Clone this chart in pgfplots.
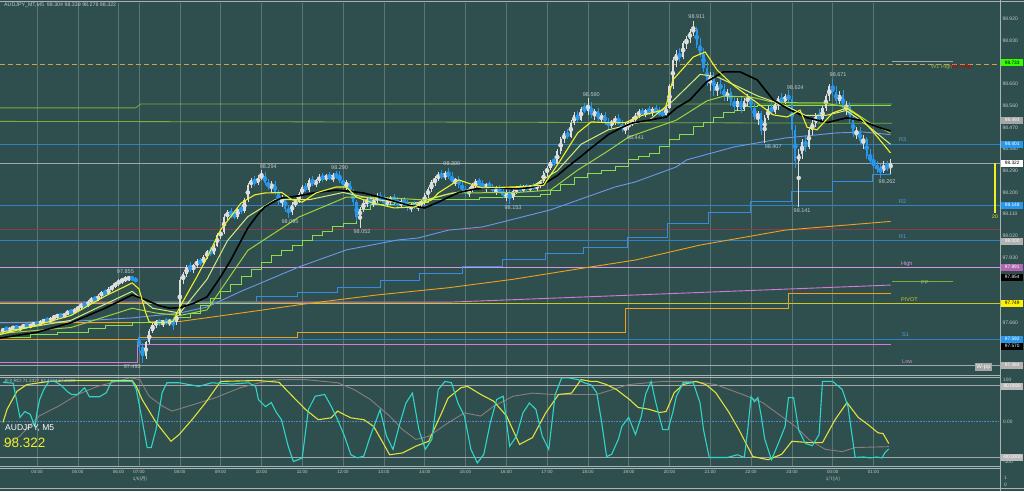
\documentclass[border=0pt]{standalone}
\usepackage{pgfplots}
\pgfplotsset{compat=1.18}
\usepackage{pgfplotstable}
\usepackage{fontspec}
\setmainfont{Liberation Sans}
\newfontfamily\cjk{Noto Sans CJK JP}
\definecolor{bg}{RGB}{47,79,79}
\definecolor{upc}{RGB}{222,222,222}
\definecolor{dnc}{RGB}{40,150,235}
\definecolor{lvblue}{RGB}{45,130,200}
\definecolor{lvgreen}{RGB}{120,175,60}
\definecolor{lvyellow}{RGB}{200,200,40}
\definecolor{lvpink}{RGB}{215,150,215}
\definecolor{lvmaroon}{RGB}{140,60,70}
\definecolor{lvgrey}{RGB}{165,165,175}
\definecolor{wtan}{RGB}{205,160,80}
\definecolor{myyellow}{RGB}{240,240,40}
\definecolor{paleyellow}{RGB}{215,235,120}
\definecolor{ygreen}{RGB}{160,210,60}
\definecolor{stair}{RGB}{140,220,80}
\definecolor{cblue}{RGB}{110,150,235}
\definecolor{morange}{RGB}{240,160,30}
\definecolor{mpink}{RGB}{215,120,215}
\definecolor{stepblue}{RGB}{55,140,225}
\definecolor{oscyan}{RGB}{48,213,200}
\definecolor{osyellow}{RGB}{225,225,60}
\definecolor{osgrey}{RGB}{140,125,125}
\definecolor{txtgrey}{RGB}{195,200,200}
\definecolor{border}{RGB}{170,180,180}

\pgfplotstableread{
o h l c
97.625 97.640 97.615 97.632
97.632 97.645 97.625 97.628
97.628 97.640 97.620 97.636
97.636 97.648 97.630 97.640
97.640 97.652 97.632 97.634
97.634 97.646 97.626 97.642
97.642 97.655 97.636 97.648
97.648 97.660 97.640 97.644
97.644 97.656 97.636 97.650
97.650 97.664 97.644 97.658
97.658 97.668 97.648 97.654
97.654 97.670 97.648 97.664
97.664 97.676 97.656 97.670
97.670 97.682 97.662 97.666
97.666 97.684 97.660 97.678
97.678 97.692 97.670 97.686
97.686 97.698 97.676 97.690
97.690 97.702 97.680 97.684
97.684 97.700 97.678 97.696
97.696 97.712 97.690 97.706
97.706 97.718 97.696 97.700
97.700 97.720 97.694 97.714
97.714 97.730 97.706 97.724
97.724 97.742 97.716 97.736
97.736 97.748 97.722 97.730
97.730 97.752 97.726 97.746
97.746 97.766 97.738 97.760
97.760 97.772 97.748 97.754
97.754 97.778 97.748 97.772
97.772 97.792 97.764 97.786
97.786 97.800 97.772 97.780
97.780 97.806 97.774 97.798
97.798 97.818 97.790 97.812
97.812 97.830 97.804 97.822
97.822 97.840 97.814 97.832
97.832 97.846 97.822 97.838
97.838 97.852 97.830 97.842
97.842 97.855 97.834 97.846
97.846 97.852 97.836 97.840
97.840 97.848 97.828 97.832
97.600 97.612 97.540 97.560
97.560 97.575 97.493 97.520
97.520 97.585 97.510 97.578
97.578 97.632 97.570 97.625
97.625 97.660 97.618 97.652
97.652 97.672 97.640 97.664
97.664 97.676 97.648 97.656
97.656 97.672 97.644 97.668
97.668 97.680 97.652 97.660
97.660 97.676 97.646 97.670
97.670 97.684 97.630 97.664
97.664 97.700 97.650 97.692
97.692 97.850 97.686 97.838
97.838 97.872 97.820 97.860
97.860 97.900 97.850 97.892
97.892 97.912 97.870 97.882
97.882 97.905 97.868 97.898
97.898 97.925 97.888 97.914
97.914 97.930 97.896 97.906
97.906 97.940 97.900 97.932
97.932 97.962 97.924 97.956
97.956 97.972 97.938 97.946
97.946 97.988 97.940 97.980
97.980 98.030 97.972 98.022
98.022 98.045 98.008 98.036
98.036 98.110 98.028 98.100
98.100 98.128 98.085 98.118
98.118 98.136 98.096 98.108
98.108 98.126 98.090 98.100
98.100 98.140 98.092 98.132
98.132 98.150 98.112 98.122
98.122 98.176 98.116 98.168
98.168 98.240 98.160 98.232
98.232 98.262 98.220 98.250
98.250 98.268 98.228 98.238
98.238 98.272 98.230 98.262
98.262 98.294 98.250 98.270
98.270 98.286 98.232 98.240
98.240 98.258 98.210 98.222
98.222 98.246 98.200 98.236
98.236 98.248 98.190 98.198
98.198 98.212 98.150 98.160
98.160 98.188 98.140 98.176
98.176 98.190 98.120 98.132
98.132 98.150 98.095 98.120
98.120 98.160 98.108 98.150
98.150 98.172 98.138 98.164
98.164 98.200 98.156 98.192
98.192 98.232 98.184 98.224
98.224 98.240 98.200 98.212
98.212 98.260 98.204 98.250
98.250 98.268 98.226 98.236
98.236 98.258 98.222 98.248
98.248 98.276 98.238 98.266
98.266 98.282 98.244 98.254
98.254 98.278 98.246 98.270
98.270 98.286 98.250 98.258
98.258 98.280 98.242 98.272
98.272 98.290 98.256 98.264
98.264 98.288 98.240 98.250
98.250 98.262 98.222 98.232
98.232 98.250 98.210 98.238
98.238 98.246 98.190 98.200
98.200 98.214 98.150 98.160
98.160 98.170 98.080 98.100
98.100 98.140 98.052 98.130
98.130 98.168 98.120 98.158
98.158 98.180 98.140 98.170
98.170 98.186 98.148 98.156
98.156 98.176 98.140 98.168
98.168 98.196 98.158 98.182
98.182 98.200 98.160 98.170
98.170 98.190 98.150 98.158
98.158 98.178 98.140 98.168
98.168 98.186 98.150 98.176
98.176 98.192 98.158 98.164
98.164 98.180 98.140 98.150
98.150 98.172 98.136 98.162
98.162 98.180 98.146 98.154
98.154 98.168 98.124 98.136
98.136 98.156 98.120 98.148
98.148 98.164 98.130 98.140
98.140 98.160 98.122 98.152
98.152 98.170 98.140 98.162
98.162 98.196 98.150 98.188
98.188 98.222 98.176 98.214
98.214 98.250 98.200 98.242
98.242 98.268 98.226 98.260
98.260 98.284 98.246 98.274
98.274 98.292 98.254 98.266
98.266 98.290 98.250 98.280
98.280 98.300 98.258 98.268
98.268 98.284 98.236 98.244
98.244 98.262 98.226 98.254
98.254 98.268 98.220 98.230
98.230 98.246 98.200 98.210
98.210 98.228 98.186 98.200
98.200 98.222 98.180 98.214
98.214 98.238 98.200 98.230
98.230 98.254 98.216 98.246
98.246 98.262 98.226 98.236
98.236 98.250 98.212 98.222
98.222 98.240 98.204 98.232
98.232 98.248 98.214 98.224
98.224 98.236 98.196 98.208
98.208 98.226 98.188 98.216
98.216 98.232 98.196 98.204
98.204 98.220 98.176 98.188
98.188 98.210 98.166 98.198
98.198 98.212 98.153 98.176
98.176 98.214 98.168 98.206
98.206 98.226 98.194 98.218
98.218 98.234 98.204 98.212
98.212 98.230 98.200 98.222
98.222 98.236 98.208 98.216
98.216 98.232 98.204 98.226
98.226 98.240 98.212 98.220
98.220 98.238 98.208 98.230
98.230 98.252 98.220 98.246
98.246 98.290 98.238 98.282
98.282 98.310 98.270 98.302
98.302 98.336 98.292 98.328
98.328 98.352 98.310 98.320
98.320 98.380 98.314 98.372
98.372 98.430 98.360 98.420
98.420 98.456 98.404 98.446
98.446 98.462 98.420 98.432
98.432 98.500 98.426 98.490
98.490 98.532 98.478 98.520
98.520 98.540 98.490 98.502
98.502 98.556 98.496 98.548
98.548 98.572 98.530 98.540
98.540 98.590 98.520 98.560
98.560 98.574 98.510 98.522
98.522 98.548 98.500 98.536
98.536 98.552 98.496 98.506
98.506 98.530 98.488 98.520
98.520 98.534 98.480 98.490
98.490 98.508 98.464 98.480
98.480 98.502 98.468 98.494
98.494 98.516 98.480 98.506
98.506 98.524 98.478 98.486
98.486 98.500 98.450 98.462
98.462 98.488 98.441 98.476
98.476 98.496 98.460 98.488
98.488 98.512 98.474 98.504
98.504 98.528 98.492 98.518
98.518 98.546 98.508 98.538
98.538 98.552 98.516 98.526
98.526 98.548 98.512 98.540
98.540 98.560 98.522 98.532
98.532 98.556 98.518 98.546
98.546 98.562 98.526 98.534
98.534 98.554 98.516 98.528
98.528 98.546 98.510 98.522
98.522 98.560 98.514 98.552
98.552 98.650 98.546 98.640
98.640 98.760 98.630 98.748
98.748 98.790 98.720 98.776
98.776 98.800 98.740 98.760
98.760 98.830 98.752 98.820
98.820 98.850 98.796 98.838
98.838 98.880 98.820 98.866
98.866 98.911 98.850 98.878
98.878 98.886 98.800 98.812
98.812 98.840 98.760 98.776
98.776 98.800 98.700 98.716
98.716 98.740 98.640 98.660
98.660 98.700 98.620 98.684
98.684 98.700 98.600 98.620
98.620 98.660 98.600 98.648
98.648 98.670 98.610 98.630
98.630 98.650 98.580 98.596
98.596 98.630 98.580 98.616
98.616 98.634 98.560 98.574
98.574 98.600 98.540 98.556
98.556 98.590 98.540 98.580
98.580 98.596 98.530 98.546
98.546 98.590 98.536 98.578
98.578 98.610 98.560 98.596
98.596 98.608 98.540 98.552
98.552 98.570 98.500 98.514
98.514 98.540 98.480 98.528
98.528 98.536 98.440 98.456
98.456 98.520 98.407 98.508
98.508 98.560 98.500 98.548
98.548 98.570 98.520 98.534
98.534 98.580 98.526 98.566
98.566 98.600 98.544 98.590
98.590 98.612 98.560 98.576
98.576 98.610 98.566 98.600
98.600 98.624 98.570 98.586
98.586 98.600 98.440 98.460
98.460 98.480 98.300 98.330
98.330 98.380 98.141 98.360
98.360 98.420 98.340 98.410
98.410 98.440 98.370 98.390
98.390 98.470 98.380 98.460
98.460 98.500 98.440 98.490
98.490 98.530 98.470 98.520
98.520 98.548 98.490 98.504
98.504 98.560 98.496 98.550
98.550 98.610 98.540 98.600
98.600 98.650 98.580 98.640
98.640 98.671 98.600 98.616
98.616 98.640 98.560 98.580
98.580 98.620 98.566 98.606
98.606 98.624 98.540 98.552
98.552 98.580 98.520 98.560
98.560 98.574 98.490 98.500
98.500 98.520 98.430 98.444
98.444 98.470 98.420 98.456
98.456 98.470 98.400 98.412
98.412 98.440 98.380 98.420
98.420 98.430 98.340 98.352
98.352 98.380 98.320 98.330
98.330 98.360 98.300 98.310
98.310 98.330 98.280 98.300
98.300 98.320 98.262 98.290
98.290 98.330 98.280 98.310
98.310 98.330 98.290 98.300
98.300 98.339 98.278 98.322
}\candles

\begin{document}
\begin{tikzpicture}[x=1pt,y=1pt]
\fill[bg] (0,0) rectangle (1024,491);

% ---------------- main price panel ----------------
\begin{axis}[
  at={(0pt,116pt)}, anchor=south west, scale only axis,
  width=1000pt, height=372pt,
  xmin=-0.88, xmax=293.2, ymin=97.443, ymax=98.986,
  clip mode=individual,
  axis line style={draw=none}, major tick length=0pt,
  xtick={10,22,34,40,52,64,76,88,100,112,124,136,148,160,172,184,196,208,220,232,244,256},
  xticklabels={}, xmajorgrids,
  grid style={color=white, opacity=0.22, line width=0.5pt},
  ytick={97.660,97.930,98.020,98.110,98.200,98.290,98.380,98.470,98.560,98.650,98.830,98.920},
  yticklabel pos=right,
  yticklabel style={font=\fontsize{5}{6}\selectfont, text=txtgrey, anchor=west, xshift=-1pt,
    /pgf/number format/.cd, fixed, fixed zerofill, precision=3, 1000 sep={}, assume math mode=true},
]
% level lines
\addplot[wtan, line width=0.8pt, dash pattern=on 5pt off 3pt] coordinates {(-1,98.733) (294,98.733)};
\addplot[lvgreen, line width=0.8pt] coordinates {(-1,98.551) (39,98.551) (40.5,98.567) (261.5,98.567)};
\addplot[lvgreen, line width=0.8pt] coordinates {(-1,98.495) (130,98.492) (261.5,98.487)};
\addplot[lvblue, line width=0.8pt] coordinates {(-1,98.401) (294,98.401)};
\addplot[lvgrey, line width=0.8pt] coordinates {(-1,98.322) (294,98.322)};
\addplot[lvblue, line width=0.8pt] coordinates {(-1,98.148) (294,98.148)};
\addplot[lvmaroon, line width=0.8pt] coordinates {(-1,98.049) (294,98.049)};
\addplot[lvblue, line width=0.8pt] coordinates {(-1,98.000) (294,98.000)};
\addplot[lvpink, line width=0.8pt] coordinates {(-1,97.891) (294,97.891)};
\addplot[lvyellow, line width=0.8pt] coordinates {(-1,97.742) (294,97.742)};
\addplot[lvblue, line width=0.8pt] coordinates {(-1,97.592) (294,97.592)};
\addplot[lvgrey, line width=0.8pt] coordinates {(-1,97.484) (294,97.484)};
\addplot[lvgreen, line width=0.8pt] coordinates {(261.5,97.833) (279.4,97.833)};
\addplot[lvgrey, line width=0.6pt] coordinates {(261.5,98.746) (279.4,98.746)};
% step lines
\addplot[const plot, morange, line width=0.9pt] coordinates {(-1,97.592) (40,97.600) (86.5,97.620) (183,97.720) (231,97.780) (261,97.780)};
\addplot[const plot, mpink, line width=0.9pt] coordinates {(-1,97.497) (39.5,97.571) (261,97.571)};
\addplot[mpink, line width=0.9pt] coordinates {(-1,97.745) (131,97.745) (186,97.775) (261,97.816)};
\addplot[morange, line width=0.9pt] coordinates {(-1,97.660) (40,97.660) (52,97.665) (70,97.700) (90,97.740) (110,97.775) (131,97.805) (150,97.840) (170,97.885) (186,97.920) (205,97.982) (230,98.044) (261,98.080)};
\addplot[const plot, stepblue, line width=0.9pt] coordinates {(42,97.746) (74.4,97.767) (86.5,97.787) (98.5,97.808) (110.9,97.837) (122.6,97.866) (135,97.895) (147,97.924) (159.4,97.949) (170.6,97.974) (183.5,98.015) (195.3,98.073) (207.4,98.119) (219.7,98.161) (232,98.206) (243.8,98.244) (255.6,98.273) (261,98.273)};
\addplot[cblue, line width=0.9pt] coordinates {(-1,97.660) (20,97.665) (38,97.680) (52,97.700) (60,97.725) (70,97.790) (87,97.891) (101,97.962) (116,98.003) (122,98.011) (131,98.044) (141,98.057) (161,98.128) (180,98.223) (186,98.244) (198,98.306) (201,98.335) (215,98.389) (230,98.426) (245,98.447) (253,98.451) (261,98.440)};
\addplot[const plot, stair, line width=0.9pt] coordinates {(-1,97.600) (8,97.610) (16,97.620) (25,97.638) (30,97.650) (38,97.663) (45,97.670) (50,97.680) (55,97.700) (58,97.730) (61,97.760) (64,97.790) (67,97.820) (70,97.850) (73,97.880) (76,97.910) (79,97.940) (82,97.960) (85,97.980) (88,98.000) (91,98.020) (94,98.040) (97,98.060) (100,98.073) (104,98.130) (108,98.150) (115,98.160) (125,98.170) (140,98.180) (150,98.185) (158,98.190) (161,98.210) (164,98.235) (168,98.264) (172,98.280) (176,98.293) (180,98.310) (184,98.335) (187,98.350) (190,98.364) (193,98.390) (196,98.418) (199,98.440) (203,98.472) (206,98.490) (209,98.513) (212,98.530) (215,98.542) (218,98.555) (222,98.560) (261,98.560)};
% candles: wicks and bodies
\addplot[upc, only marks, mark=none, forget plot, error bars/.cd, y dir=both, y explicit, error mark=none,
  error bar style={line width=0.6pt, color=upc, solid}]
  table[x expr=\coordindex, y expr={\thisrow{c}>=\thisrow{o} ? 0.5*(\thisrow{h}+\thisrow{l}) : nan}, y error expr={0.5*(\thisrow{h}-\thisrow{l})}] {\candles};
\addplot[dnc, only marks, mark=none, forget plot, error bars/.cd, y dir=both, y explicit, error mark=none,
  error bar style={line width=0.6pt, color=dnc, solid}]
  table[x expr=\coordindex, y expr={\thisrow{c}<\thisrow{o} ? 0.5*(\thisrow{h}+\thisrow{l}) : nan}, y error expr={0.5*(\thisrow{h}-\thisrow{l})}] {\candles};
\addplot[upc, only marks, mark=none, forget plot, error bars/.cd, y dir=both, y explicit, error mark=none,
  error bar style={line width=2.3pt, color=upc, solid}]
  table[x expr=\coordindex, y expr={\thisrow{c}>=\thisrow{o} ? 0.5*(\thisrow{o}+\thisrow{c}) : nan}, y error expr={max(0.5*abs(\thisrow{c}-\thisrow{o}),0.0008)}] {\candles};
\addplot[dnc, only marks, mark=none, forget plot, error bars/.cd, y dir=both, y explicit, error mark=none,
  error bar style={line width=2.3pt, color=dnc, solid}]
  table[x expr=\coordindex, y expr={\thisrow{c}<\thisrow{o} ? 0.5*(\thisrow{o}+\thisrow{c}) : nan}, y error expr={max(0.5*abs(\thisrow{c}-\thisrow{o}),0.0008)}] {\candles};
% moving averages
\addplot[ygreen, line width=1pt] coordinates {(-1,97.615) (20,97.640) (38,97.720) (45,97.700) (52,97.690) (60,97.713) (72,97.960) (87,98.098) (101,98.181) (111,98.180) (124,98.169) (132,98.198) (151,98.200) (161,98.210) (169,98.293) (177,98.364) (184,98.430) (194,98.480) (198,98.500) (207,98.580) (212,98.600) (220,98.596) (226,98.576) (234,98.572) (241,98.572) (248,98.555) (255,98.488) (261,98.447)};
\addplot[paleyellow, line width=1pt] coordinates {(-1,97.620) (20,97.670) (38,97.790) (44,97.720) (52,97.700) (60,97.840) (66,98.000) (72,98.100) (80,98.170) (90,98.170) (100,98.200) (110,98.170) (120,98.150) (130,98.190) (140,98.220) (155,98.220) (163,98.290) (170,98.400) (178,98.460) (190,98.500) (197,98.580) (205,98.690) (210,98.680) (216,98.640) (222,98.600) (230,98.560) (236,98.520) (242,98.520) (248,98.540) (254,98.480) (261,98.400)};
\addplot[black, line width=1.6pt] coordinates {(-1,97.596) (10,97.620) (20,97.660) (30,97.720) (38,97.775) (42,97.755) (46,97.730) (49,97.720) (52,97.722) (56,97.740) (60,97.767) (64,97.850) (67,97.920) (70,98.000) (72,98.053) (75,98.110) (77,98.140) (80,98.165) (82,98.177) (87,98.186) (92,98.200) (98,98.210) (102,98.205) (106,98.198) (111,98.180) (116,98.160) (120,98.145) (124,98.136) (128,98.160) (134,98.200) (139,98.215) (146,98.220) (151,98.215) (155,98.220) (159,98.235) (163,98.270) (166,98.306) (170,98.350) (173,98.385) (178,98.440) (182,98.470) (185,98.488) (190,98.500) (195,98.513) (198,98.550) (202,98.584) (207,98.660) (211.8,98.700) (216.8,98.700) (221.8,98.667) (226.5,98.584) (231.5,98.542) (236.5,98.510) (242.4,98.490) (248.2,98.510) (252,98.500) (258,98.468) (261,98.455)};
\addplot[myyellow, line width=1.1pt] coordinates {(-1,97.610) (10,97.650) (20,97.690) (30,97.770) (38,97.825) (40,97.800) (42,97.700) (43,97.663) (46,97.660) (50,97.665) (52,97.725) (57,97.850) (60,97.930) (64,98.045) (70,98.156) (74,98.190) (77,98.198) (82,98.200) (85,98.170) (88,98.160) (92,98.198) (98,98.223) (101,98.223) (104,98.180) (109,98.156) (115,98.136) (121,98.140) (126,98.169) (128,98.198) (134,98.252) (141,98.219) (150,98.223) (159,98.230) (164,98.335) (169,98.447) (173,98.493) (177,98.490) (183,98.490) (188,98.520) (194,98.542) (195,98.560) (197,98.667) (203,98.762) (206.5,98.783) (210,98.708) (214.7,98.646) (220.6,98.584) (226.5,98.522) (230.6,98.513) (234.4,98.542) (236.5,98.470) (239.4,98.460) (244,98.530) (248,98.550) (252,98.513) (256,98.450) (261,98.364)};
% value labels
\begin{scope}[every node/.style={font=\fontsize{5.5}{6}\selectfont, text=txtgrey, inner sep=0pt}]
\node at (axis cs:204,98.928) {98.911};
\node at (axis cs:245.6,98.688) {98.671};
\node at (axis cs:233,98.634) {98.624};
\node at (axis cs:173,98.605) {98.590};
\node at (axis cs:186,98.426) {98.441};
\node at (axis cs:226.5,98.389) {98.407};
\node at (axis cs:78,98.306) {98.294};
\node at (axis cs:99,98.302) {98.290};
\node at (axis cs:132,98.318) {98.300};
\node at (axis cs:84.4,98.078) {98.095};
\node at (axis cs:105.6,98.036) {98.052};
\node at (axis cs:150,98.136) {98.153};
\node at (axis cs:235,98.123) {98.141};
\node at (axis cs:260,98.244) {98.262};
\node at (axis cs:36,97.870) {97.855};
\node at (axis cs:38,97.476) {97.493};
\end{scope}
\end{axis}

% ---------------- oscillator panel ----------------
\begin{axis}[
  at={(0pt,25pt)}, anchor=south west, scale only axis,
  width=1000pt, height=90pt,
  xmin=-0.88, xmax=293.2, ymin=-100, ymax=100,
  clip mode=individual,
  axis line style={draw=none}, major tick length=0pt,
  ytick=\empty,
  xtick={10,22,34,40,52,64,76,88,100,112,124,136,148,160,172,184,196,208,220,232,244,256},
  xticklabels={04:00,05:00,06:00,07:00,08:00,09:00,10:00,11:00,12:00,13:00,14:00,15:00,16:00,17:00,18:00,19:00,20:00,21:00,22:00,23:00,00:00,01:00},
  xticklabel style={font=\fontsize{4.5}{5}\selectfont, text=txtgrey, yshift=-0.5pt},
  xmajorgrids,
  grid style={color=white, opacity=0.22, line width=0.5pt},
]
\addplot[lvgrey, line width=0.8pt] coordinates {(-1,80) (294,80)};
\addplot[lvgrey, line width=0.8pt] coordinates {(-1,-80) (294,-80)};
\addplot[stepblue!70!gray, densely dotted, line width=0.6pt] coordinates {(-1,0) (294,0)};
\addplot[osgrey, line width=0.9pt] coordinates {(0,-56) (4.9,-34) (10.6,11) (16.3,33) (22,59) (27.8,77) (33.5,88) (37.3,96) (40.2,92) (43,55) (46.9,33) (49.7,22) (54.5,33) (62.2,51) (69.8,74) (75.5,85) (81.2,92) (88.9,92) (98.4,85) (103.2,70) (108,48) (113.7,11) (117.5,-19) (121.4,-41) (125.2,-34) (130.9,-4) (135.7,18) (140.5,11) (144.3,33) (150,55) (155.7,62) (161.5,59) (167.2,59) (174.6,59) (184,81) (194,88) (203,88) (209.6,81) (217.5,59) (223.4,41) (229,10) (233,-12) (237,-41) (241.8,-63) (246.8,-68) (250.6,-59) (260.5,-57)};
\addplot[osyellow, line width=1.1pt] coordinates {(0,-3) (1.2,26) (4.1,66) (7,81) (13.7,88) (20,90) (38,90) (39.2,77) (40.9,48) (45,-3) (49.4,-45) (51.8,-30) (55.6,3) (59.6,41) (64,88) (75,90) (81.2,86) (84.1,63) (88.9,26) (92.7,3) (96.5,7) (98.4,22) (100.4,14) (102.3,7) (106.1,3) (109,-12) (111.8,-49) (113.7,-75) (117.5,-71) (121.4,-56) (125.2,-45) (129,18) (130.9,51) (134.7,74) (136.6,77) (140.5,59) (144.3,44) (148.1,11) (151.9,-52) (155.7,-37) (159.6,18) (163.4,59) (167.2,62) (170,92) (172.9,88) (174.6,88) (177.5,81) (180.4,70) (184.2,48) (186.8,30) (190,26) (193,19) (195,21) (197.4,63) (200,81) (203.8,88) (206.7,81) (209.6,63) (213.5,19) (216.4,-19) (220.5,-79) (225,-86) (229,-74) (232,-45) (237,-48) (241,-48) (244.7,3) (248.2,41) (251.5,8) (254.4,-8) (257.3,-26) (258.8,-28) (260.5,-50)};
\addplot[oscyan, line width=1.1pt] coordinates {(0,86) (3,84) (5,8) (6.4,21) (8,15) (9.4,-12) (10,19) (10.8,48) (12,70) (13.5,88) (15.2,88) (17,80) (19,65) (20.2,59) (21.9,59) (24,74) (25.4,54) (28.4,54) (30.4,63) (31.9,88) (38,88) (39.2,70) (40.9,3) (42.4,-59) (43.6,-59) (45,-19) (46.8,63) (48.2,85) (51.8,85) (57.6,77) (61.4,85) (67.3,82) (72.2,85) (74.3,77) (75.1,48) (77.2,32) (78.9,41) (80.4,19) (81.9,3) (83.9,-57) (85.4,-90) (86.8,-86) (88,-82) (89.8,25) (91.8,55) (94.6,59) (96.5,33) (98.4,3) (100.4,-33) (102.3,-75) (104.2,-82) (106.1,-78) (108,-34) (110.9,25) (112.8,-34) (114.7,-63) (116.6,-8) (118.5,40) (120.4,62) (122.3,-19) (124.2,-63) (126.1,-41) (128,70) (130,88) (131.9,85) (133.8,40) (135.7,11) (137.6,-63) (139.5,-93) (141.4,-74) (143.3,-4) (145.2,48) (147.1,55) (149,-56) (151,-34) (152.9,18) (154.8,40) (156.7,26) (158.6,-34) (160.5,-63) (162.4,59) (164.3,96) (166.2,96) (169.1,92) (171,85) (173,80) (174.6,63) (176,0) (177.5,-79) (179,-74) (181,-40) (182,-12) (184,8) (186,-30) (187.7,10) (189,60) (190.6,88) (192,40) (194,-19) (195.6,-19) (197,20) (198,54) (200,85) (203,85) (205,40) (206,-19) (207,-56) (207.7,-81) (213,-81) (216,-75) (218,-81) (219,-20) (220,54) (221,43) (222,52) (223,10) (224,-40) (226,-86) (228,-50) (230,-12) (231,52) (232.5,52) (234,-20) (236,-50) (238,-55) (240,-30) (241,88) (244,88) (246.8,70) (248.5,32) (250.6,-81) (253,-80) (255,-82) (257,-80) (258.5,-82) (259.4,-70) (260.5,-62)};
\end{axis}

% ---------------- frames ----------------
\draw[border, line width=0.8pt] (0,489.8) -- (1024,489.8);
\draw[border, line width=0.8pt] (1000.5,0) -- (1000.5,491);
\draw[border, line width=0.9pt] (0,115.8) -- (1000.5,115.8);
\draw[border, line width=0.9pt] (0,113.4) -- (1000.5,113.4);
\draw[border, line width=0.9pt] (0,24.6) -- (1000.5,24.6);
\draw[border, line width=0.9pt] (0,22.4) -- (1000.5,22.4);
\draw[border, line width=0.9pt] (0,3) -- (1024,3);

% ---------------- texts ----------------
\node[anchor=west, inner sep=0pt, text=txtgrey, font=\fontsize{5.3}{6}\selectfont] at (4,486) {AUDJPY\_MT,M5\ \ 98.304 98.339 98.278 98.322};
\node[anchor=west, inner sep=0pt, text=txtgrey, font=\fontsize{4.6}{5}\selectfont] at (4,110) {JFX RCI 71.3327 62.4444 67.3600};
\node[anchor=west, inner sep=0pt, text=white, font=\fontsize{8.5}{9}\selectfont] at (5,63) {AUDJPY, M5};
\node[anchor=west, inner sep=0pt, text=myyellow, font=\fontsize{13.5}{14}\selectfont] at (4,48) {98.322};
\node[inner sep=0pt, text=txtgrey, font=\cjk\fontsize{4.5}{5}\selectfont] at (140,12) {1/6(月)};
\node[inner sep=0pt, text=txtgrey, font=\cjk\fontsize{4.5}{5}\selectfont] at (833,12) {1/7(火)};

\begin{scope}[every node/.style={anchor=west, inner sep=0pt, font=\fontsize{5.5}{6}\selectfont}]
\node[text=lvblue!80!white] at (899,351) {R3};
\node[text=lvblue!80!white] at (899,289) {R2};
\node[text=lvblue!80!white] at (899,254) {R1};
\node[text=lvpink] at (901,227) {High};
\node[text=lvgreen!80!white] at (921,208) {PP};
\node[text=lvyellow] at (901,191) {PIVOT};
\node[text=lvblue!80!white] at (902,156) {S1};
\node[text=lvpink!80!gray] at (902,129) {Low};
\node[text=lvgreen!90!white] at (931,424) {W1 High};
\node[text=red!75!black] at (951,424) {W1 High};
\end{scope}

% right price boxes
\begin{scope}[every node/.style={anchor=west, inner xsep=1pt, inner ysep=1pt, minimum width=22pt, minimum height=7pt, font=\fontsize{4.8}{5}\selectfont}]
\node[fill=green!80!yellow, text=black] at (1001,428) {98.733};
\node[fill=gray!70, text=white] at (1001,371) {98.493};
\node[fill=dnc, text=white] at (1001,347) {98.401};
\node[fill=white, text=black] at (1001,328) {98.322};
\node[fill=dnc, text=white] at (1001,286) {98.148};
\node[fill=gray!60, text=white] at (1001,250) {98.000};
\node[fill=violet!60!white, text=white] at (1001,224) {97.891};
\node[fill=black, text=white] at (1001,214) {97.854};
\node[fill=yellow, text=black] at (1001,188) {97.749};
\node[fill=dnc, text=white] at (1001,152) {97.592};
\node[fill=black, text=white] at (1001,145) {97.570};
\node[fill=gray!60, text=white] at (1001,126) {97.484};
\node[fill=gray!55, text=white] at (1001,105) {80.0000};
\node[fill=gray!55, text=white] at (1001,34) {-80.0000};
\end{scope}
\begin{scope}[every node/.style={anchor=west, inner sep=0pt, text=txtgrey, font=\fontsize{4.8}{5}\selectfont}]
\node at (1003,111) {100};
\node at (1003,69) {0.00};
\node at (1003,29) {-100};
\node at (1004,13) {1};
\node at (1004,6) {0};
\end{scope}
\node[fill=gray!70, text=white, inner sep=1pt, font=\fontsize{6}{7}\selectfont] at (983.5,124) {W-pp};
\draw[myyellow, line width=1.3pt] (995,328) -- (995,278);
\node[text=myyellow, inner sep=0pt, font=\fontsize{5}{6}\selectfont] at (995,274) {20};

\pgfresetboundingbox
\path[use as bounding box] (0,0) rectangle (1024,491);
\end{tikzpicture}
\end{document}
